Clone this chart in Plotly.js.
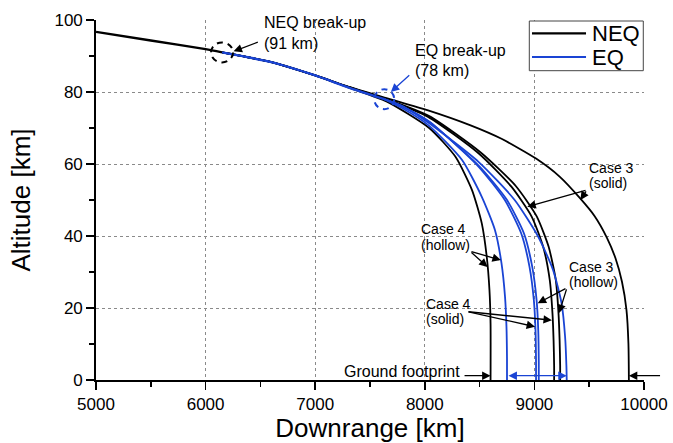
<!DOCTYPE html>
<html>
<head>
<meta charset="utf-8">
<script src="https://cdn.plot.ly/plotly-3.0.1.min.js"></script>
<style>
  html, body { margin: 0; padding: 0; background: #fff; }
  #chart { width: 673px; height: 443px; }
</style>
</head>
<body>
<div id="chart"></div>
<script>
// Re-entry trajectories: downrange [km] vs altitude [km]
// NEQ = non-equilibrium, EQ = equilibrium break-up model

const neqBreakupKm = 6150, neqBreakupAlt = 91;
const eqBreakupKm = 7630, eqBreakupAlt = 78;

// Approach before the first (NEQ) break-up
const approachKm  = [5000, 5500, 6000, neqBreakupKm];
const approachAlt = [96.7, 94.3, 91.9, neqBreakupAlt];

// EQ body between NEQ and EQ break-up altitudes
const eqTrunkKm  = [neqBreakupKm, 6600, 7000, 7300, eqBreakupKm];
const eqTrunkAlt = [neqBreakupAlt, 88.3, 84.6, 81.3, eqBreakupAlt];

// NEQ fragment trajectories
const neqCase3SolidKm  = [neqBreakupKm, 6600, 7000, 7300, 7650, 8030, 8412, 8700, 9015, 9230, 9416, 9550, 9662, 9740, 9799, 9840, 9858, 9862];
const neqCase3SolidAlt = [neqBreakupAlt, 88.3, 84.6, 81.5, 78.3, 74.9, 70.8, 67.0, 61.5, 56.5, 50.5, 45.5, 39.5, 33.8, 27.3, 19.5, 10.0, 0];

const neqCase3HollowKm  = [neqBreakupKm, 6600, 7000, 7300, 7650, 8040, 8510, 8830, 9020, 9130, 9195, 9220, 9230, 9235, 9235];
const neqCase3HollowAlt = [neqBreakupAlt, 88.3, 84.6, 81.45, 78.0, 73.3, 63.2, 53.9, 45.5, 37.0, 27.8, 18.5, 11.0, 4.0, 0];

const neqCase4SolidKm  = [neqBreakupKm, 6600, 7000, 7300, 7650, 8030, 8490, 8790, 8975, 9080, 9140, 9165, 9175, 9180, 9180];
const neqCase4SolidAlt = [neqBreakupAlt, 88.3, 84.6, 81.4, 77.9, 73.1, 63.0, 53.7, 45.4, 37.0, 27.8, 18.5, 11.0, 4.0, 0];

const neqCase4HollowKm  = [neqBreakupKm, 6600, 7000, 7300, 7650, 8040, 8280, 8430, 8520, 8565, 8590, 8600, 8600];
const neqCase4HollowAlt = [neqBreakupAlt, 88.3, 84.6, 81.3, 77.4, 70.0, 62.0, 52.8, 43.5, 34.3, 25.0, 15.7, 0];

// EQ fragment trajectories
const eqCase3SolidKm  = [eqBreakupKm, 7800, 8040, 8490, 8820, 9035, 9170, 9248, 9280, 9292, 9295];
const eqCase3SolidAlt = [eqBreakupAlt, 76.0, 71.3, 60.6, 50.0, 39.8, 30.6, 21.3, 12.0, 4.0, 0];

const eqCase3HollowKm  = [eqBreakupKm, 7800, 8040, 8500, 8750, 8905, 8980, 9020, 9035, 9040, 9040];
const eqCase3HollowAlt = [eqBreakupAlt, 75.9, 71.7, 59.3, 50.0, 40.7, 31.5, 22.2, 13.9, 5.0, 0];

const eqCase4SolidKm  = [eqBreakupKm, 7800, 8040, 8490, 8730, 8880, 8955, 8995, 9010, 9015, 9015];
const eqCase4SolidAlt = [eqBreakupAlt, 75.9, 71.8, 59.3, 50.0, 40.7, 31.5, 22.2, 13.9, 5.0, 0];

const eqCase4HollowKm  = [eqBreakupKm, 7800, 8040, 8340, 8520, 8640, 8700, 8732, 8745, 8750, 8750];
const eqCase4HollowAlt = [eqBreakupAlt, 75.4, 70.6, 61.1, 50.9, 41.7, 32.4, 23.1, 15.0, 6.0, 0];

// Axis ticks
const downrangeTicks  = [5000, 6000, 7000, 8000, 9000, 10000];
const downrangeLabels = ['5000', '6000', '7000', '8000', '9000', '10000'];
const altitudeTicks   = [0, 20, 40, 60, 80, 100];
const altitudeLabels  = ['0', '20', '40', '60', '80', '100'];

const NEQ_COLOR = '#000000';
const EQ_COLOR  = '#1a44d4';
const FONT = 'Liberation Sans, Arial, Helvetica, sans-serif';

function path(x, y, color, width) {
  return {
    x: x, y: y, type: 'scatter', mode: 'lines', showlegend: false, hoverinfo: 'skip',
    line: { color: color, width: width, shape: 'spline', smoothing: 0.6 }
  };
}

const traces = [
  path(neqCase3SolidKm,  neqCase3SolidAlt,  NEQ_COLOR, 1.8),
  path(neqCase3HollowKm, neqCase3HollowAlt, NEQ_COLOR, 1.8),
  path(neqCase4SolidKm,  neqCase4SolidAlt,  NEQ_COLOR, 1.8),
  path(neqCase4HollowKm, neqCase4HollowAlt, NEQ_COLOR, 1.8),
  path(eqCase3SolidKm,  eqCase3SolidAlt,  EQ_COLOR, 1.8),
  path(eqCase3HollowKm, eqCase3HollowAlt, EQ_COLOR, 1.8),
  path(eqCase4SolidKm,  eqCase4SolidAlt,  EQ_COLOR, 1.8),
  path(eqCase4HollowKm, eqCase4HollowAlt, EQ_COLOR, 1.8),
  path(eqTrunkKm, eqTrunkAlt, EQ_COLOR, 2.4),
  path(approachKm, approachAlt, NEQ_COLOR, 2.4)
];

// footprint extents on the ground
const neqNear = Math.min(neqCase4HollowKm[neqCase4HollowKm.length - 1], neqCase3SolidKm[neqCase3SolidKm.length - 1]);
const neqFar  = Math.max(neqCase4HollowKm[neqCase4HollowKm.length - 1], neqCase3SolidKm[neqCase3SolidKm.length - 1]);
const eqNear  = eqCase4HollowKm[eqCase4HollowKm.length - 1];
const eqFar   = eqCase3SolidKm[eqCase3SolidKm.length - 1];
const footY = 1.2;

function label(text, x, y, size, anchor) {
  return { text: text, x: x, y: y, xref: 'x', yref: 'y', showarrow: false,
           xanchor: anchor || 'left', yanchor: 'middle',
           font: { family: FONT, size: size, color: '#000' } };
}
function arrow(x, y, ax, ay, color, extra) {
  return Object.assign({ text: '', x: x, y: y, ax: ax, ay: ay, xref: 'x', yref: 'y', axref: 'x', ayref: 'y',
           showarrow: true, arrowhead: 2, arrowsize: 1.3, arrowwidth: 1.3, arrowcolor: color, standoff: 0 }, extra || {});
}

const annotations = [
  label('NEQ break-up', 6515, 99.4, 16),
  label('(' + neqBreakupAlt + ' km)', 6515, 93.6, 16),
  arrow(6255, 91.3, 6490, 94.0, NEQ_COLOR),

  label('EQ break-up', 7892, 91.4, 16),
  label('(' + eqBreakupAlt + ' km)', 7892, 86.1, 16),
  arrow(7690, 80.0, 7872, 85.0, EQ_COLOR),

  label('Case 3', 9480, 58.9, 14),
  label('(solid)', 9480, 54.7, 14),
  arrow(8935, 48.1, 9480, 52.8, NEQ_COLOR),
  arrow(9420, 50.0, 9480, 52.8, NEQ_COLOR),

  label('Case 4', 7944, 41.9, 14),
  label('(hollow)', 7944, 37.6, 14),
  arrow(8573, 31.4, 8412, 35.8, NEQ_COLOR),
  arrow(8694, 33.3, 8412, 35.8, NEQ_COLOR),

  label('Case 4', 7989, 21.2, 14),
  label('(solid)', 7989, 16.9, 14),
  arrow(9160, 16.6, 8385, 19.0, NEQ_COLOR),
  arrow(9006, 14.8, 8385, 19.0, NEQ_COLOR),

  label('Case 3', 9297, 31.5, 14),
  label('(hollow)', 9297, 27.3, 14),
  arrow(9030, 21.3, 9297, 25.6, NEQ_COLOR),
  arrow(9225, 18.6, 9297, 25.6, NEQ_COLOR),

  label('Ground footprint', 8336, 2.4, 16, 'right'),
  arrow(neqNear, footY, 8349, footY, NEQ_COLOR),
  arrow(neqFar, footY, 10160, footY, NEQ_COLOR),
  arrow(eqFar, footY, eqNear, footY, EQ_COLOR, { arrowside: 'end+start' })
];

// break-up markers and legend box
const shapes = [
  { type: 'circle', xref: 'x', yref: 'y', xsizemode: 'pixel', ysizemode: 'pixel',
    xanchor: neqBreakupKm, yanchor: neqBreakupAlt, x0: -11, x1: 11, y0: -10, y1: 10,
    line: { color: NEQ_COLOR, width: 2, dash: '6px,5px' } },
  { type: 'circle', xref: 'x', yref: 'y', xsizemode: 'pixel', ysizemode: 'pixel',
    xanchor: eqBreakupKm, yanchor: eqBreakupAlt, x0: -10, x1: 10, y0: -10, y1: 10,
    line: { color: EQ_COLOR, width: 2, dash: '6px,5px' } },
  { type: 'rect', xref: 'paper', yref: 'paper', x0: 0.7907, x1: 0.9987, y0: 0.8592, y1: 0.9972,
    line: { color: '#444', width: 1 }, fillcolor: 'rgba(255,255,255,1)', layer: 'above' },
  { type: 'line', xref: 'paper', yref: 'paper', x0: 0.7956, x1: 0.8942, y0: 0.9631, y1: 0.9631,
    line: { color: NEQ_COLOR, width: 2.2 } },
  { type: 'line', xref: 'paper', yref: 'paper', x0: 0.7956, x1: 0.8942, y0: 0.8972, y1: 0.8972,
    line: { color: EQ_COLOR, width: 2.2 } }
];
annotations.push(
  { text: 'NEQ', xref: 'paper', yref: 'paper', x: 0.9015, y: 0.9631, xanchor: 'left', yanchor: 'middle',
    showarrow: false, font: { family: FONT, size: 22, color: '#000' } },
  { text: 'EQ', xref: 'paper', yref: 'paper', x: 0.9015, y: 0.8972, xanchor: 'left', yanchor: 'middle',
    showarrow: false, font: { family: FONT, size: 22, color: '#000' } }
);

const axisCommon = {
  ticks: 'outside', ticklen: 8, tickwidth: 1.5, tickcolor: '#000',
  showline: true, linecolor: '#000', linewidth: 1.8,
  showgrid: true, gridcolor: '#8a8a8a', gridwidth: 1, griddash: 'dot',
  zeroline: false, tickmode: 'array',
  tickfont: { family: FONT, size: 17, color: '#000' }
};

const layout = {
  width: 673, height: 443,
  margin: { l: 96, r: 29, t: 20, b: 63 },
  paper_bgcolor: '#fff', plot_bgcolor: '#fff',
  font: { family: FONT, color: '#000' },
  showlegend: false,
  xaxis: Object.assign({}, axisCommon, {
    range: [5000, 10000], tickvals: downrangeTicks, ticktext: downrangeLabels,
    minor: { dtick: 500, ticks: 'outside', ticklen: 5, tickwidth: 1.5, tickcolor: '#000', showgrid: false },
    title: { text: 'Downrange [km]', font: { family: FONT, size: 26, color: '#000' }, standoff: 8 }
  }),
  yaxis: Object.assign({}, axisCommon, {
    range: [0, 100], tickvals: altitudeTicks, ticktext: altitudeLabels,
    minor: { dtick: 10, ticks: 'outside', ticklen: 5, tickwidth: 1.5, tickcolor: '#000', showgrid: false },
    title: { text: 'Altitude [km]', font: { family: FONT, size: 26, color: '#000' }, standoff: 16 }
  }),
  annotations: annotations,
  shapes: shapes
};

Plotly.newPlot('chart', traces, layout, { displayModeBar: false, staticPlot: true });
</script>
</body>
</html>
